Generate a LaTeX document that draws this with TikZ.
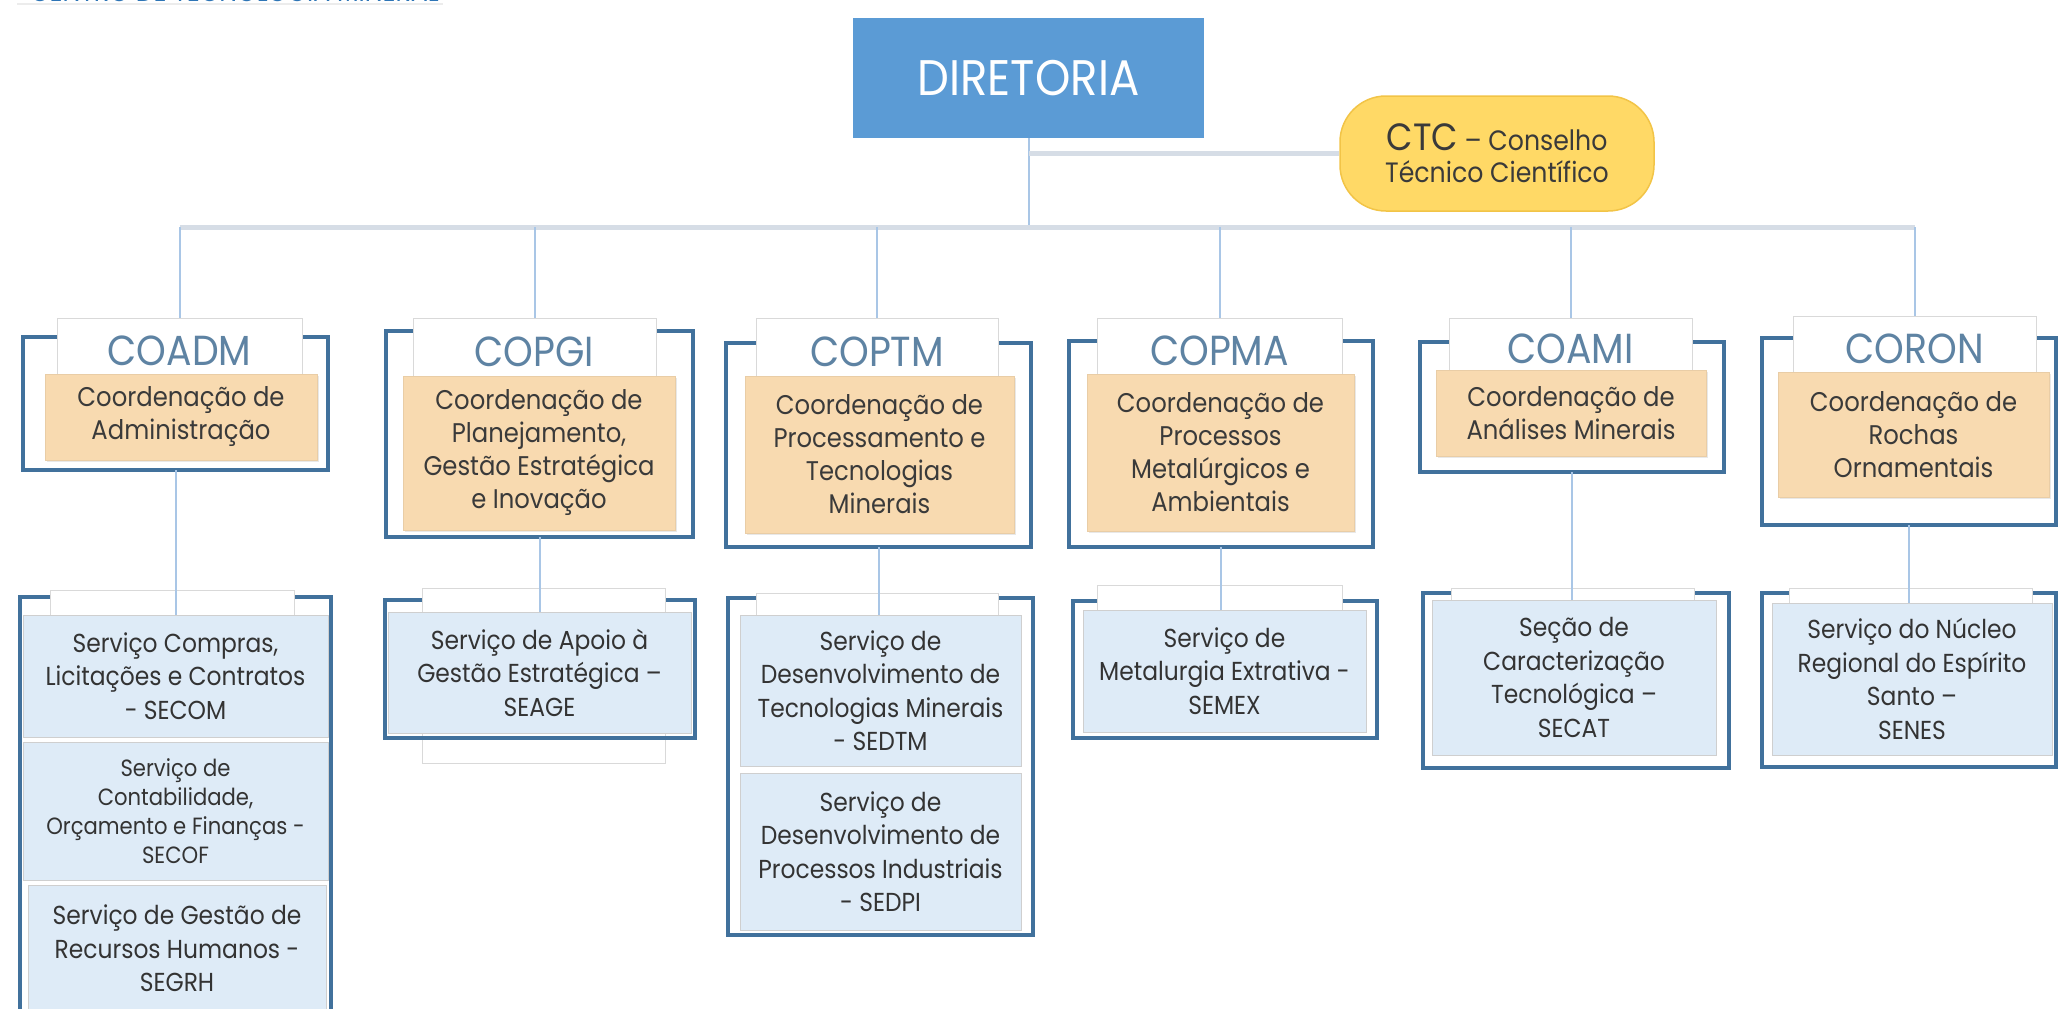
\documentclass[tikz,border=0pt]{standalone}
\usepackage{fontspec}
\setmainfont{Poppins}[FakeStretch=0.9]
\usetikzlibrary{shadows}
\definecolor{dirblue}{HTML}{5B9BD5}
\definecolor{ctcy}{HTML}{FFD966}
\definecolor{ctcb}{HTML}{F2C447}
\definecolor{busc}{HTML}{D6DDE6}
\definecolor{connc}{HTML}{A9C6E6}
\definecolor{framec}{HTML}{41719C}
\definecolor{tabgray}{HTML}{D9D9D9}
\definecolor{codec}{HTML}{5E83A3}
\definecolor{orng}{HTML}{F8DAB0}
\definecolor{orngd}{HTML}{E9CDA6}
\definecolor{svc}{HTML}{DEEBF7}
\definecolor{svcd}{HTML}{CFCFCF}
\definecolor{txt}{HTML}{3A3A3A}
\definecolor{hdrblue}{HTML}{2E75B6}
\newcommand\fdir{\fontsize{50}{56}\selectfont}
\newcommand\fcode{\fontsize{42}{46}\selectfont}
\newcommand\forg{\fontsize{27}{33}\selectfont}
\newcommand\fsvc{\fontsize{26}{33.5}\selectfont}
\newcommand\fsvcs{\fontsize{23.5}{29}\selectfont}
\newcommand\fctc{\fontsize{28}{32}\selectfont}
\newcommand\rbox[7]{\node[#1, minimum width={#5-#3}, minimum height={#6-#4}] (#2) at ({(#3+#5)/2},{(#4+#6)/2}) {#7};}
\newcommand\framepath[2]{\draw[frameline] (#2.west |- #1.north) -- (#1.north west) -- (#1.south west) -- (#1.south east) -- (#1.north east) -- (#2.east |- #1.north);}
\tikzset{
  box/.style={rectangle, inner sep=0pt, align=center, text=txt},
  dirbox/.style={box, fill=dirblue, text=white, font=\fdir},
  ctcbox/.style={box, fill=ctcy, draw=ctcb, line width=1.5pt, rounded corners=46pt, font=\fctc},
  framebox/.style={rectangle, inner sep=0pt},
  emptytab/.style={rectangle, inner sep=0pt, fill=white, draw=tabgray, line width=1pt},
  tabbox/.style={emptytab, text=codec, font=\fcode, text height=38pt, text depth=0pt},
  orgbox/.style={box, fill=orng, draw=orngd, line width=0.8pt, font=\forg,
     drop shadow={opacity=0.18, shadow xshift=2pt, shadow yshift=-2pt}},
  svcbox/.style={box, fill=svc, draw=svcd, line width=1pt, font=\fsvc, text=black!80},
  frameline/.style={draw=framec, line width=4.5pt},
  conn/.style={draw=connc, line width=2pt},
  busline/.style={draw=busc, line width=5pt},
}
\begin{document}
\begin{tikzpicture}[x=1pt, y=-1pt]
\useasboundingbox (0,0) rectangle (2059,1009);
\fill[white] (0,0) rectangle (2059,1009);

% header (clipped at top)
\draw[gray!15, line width=2pt] (17,4) -- (443,4);
\node[anchor=base west, inner sep=0pt, text=hdrblue, font=\fontsize{28}{28}\selectfont] (hdr) at (30,1.5) {CENTRO DE TECNOLOGIA MINERAL};

% top level
\rbox{dirbox}{dir}{853}{18}{1204}{138}{DIRETORIA}
\rbox{ctcbox}{ctc}{1340}{96}{1654}{211}{{\fontsize{38}{32}\selectfont CTC} – Conselho\\Técnico Científico}
\coordinate (busY) at (0,227);

% coordination tabs
\rbox{tabbox}{tA}{57}{318}{302}{374}{COADM}
\rbox{tabbox}{tB}{413}{318}{656}{376}{COPGI}
\rbox{tabbox}{tC}{756}{318}{998}{376}{COPTM}
\rbox{tabbox}{tD}{1097}{318}{1342}{374}{COPMA}
\rbox{tabbox}{tE}{1449}{318}{1692}{370}{COAMI}
\rbox{tabbox}{tF}{1793}{316}{2036}{372}{CORON}

% service tabs
\rbox{emptytab}{uA}{50}{590}{294}{615}{}
\rbox{emptytab}{uB}{422}{588}{665}{763}{}
\rbox{emptytab}{uC}{756}{593}{998}{615}{}
\rbox{emptytab}{uD}{1097}{585}{1342}{610}{}
\rbox{emptytab}{uE}{1451}{588}{1694}{600}{}
\rbox{emptytab}{uF}{1789}{588}{2032}{603}{}

% coordination frames
\rbox{framebox}{fA}{23}{337}{328}{470}{}
\rbox{framebox}{fB}{386}{331}{693}{537}{}
\rbox{framebox}{fC}{726}{343}{1031}{547}{}
\rbox{framebox}{fD}{1069}{341}{1373}{547}{}
\rbox{framebox}{fE}{1420}{342}{1724}{472}{}
\rbox{framebox}{fF}{1762}{338}{2056}{525}{}
\framepath{fA}{tA}
\framepath{fB}{tB}
\framepath{fC}{tC}
\framepath{fD}{tD}
\framepath{fE}{tE}
\framepath{fF}{tF}

% service frames
\rbox{framebox}{gA}{20}{597}{331}{1030}{}
\rbox{framebox}{gB}{385}{600}{695}{738}{}
\rbox{framebox}{gC}{728}{598}{1033}{935}{}
\rbox{framebox}{gD}{1073}{601}{1377}{738}{}
\rbox{framebox}{gE}{1423}{593}{1729}{768}{}
\rbox{framebox}{gF}{1762}{593}{2056}{767}{}
\framepath{gA}{uA}
\framepath{gB}{uB}
\framepath{gC}{uC}
\framepath{gD}{uD}
\framepath{gE}{uE}
\framepath{gF}{uF}

% coordination descriptions
\rbox{orgbox}{oA}{45}{374}{317}{460}{Coordenação de\\Administração}
\rbox{orgbox}{oB}{403}{376}{675}{530}{Coordenação de\\Planejamento,\\Gestão Estratégica\\e Inovação}
\rbox{orgbox}{oC}{745}{376}{1014}{533}{Coordenação de\\Processamento e\\Tecnologias\\Minerais}
\rbox{orgbox}{oD}{1087}{374}{1354}{531}{Coordenação de\\Processos\\Metalúrgicos e\\Ambientais}
\rbox{orgbox}{oE}{1436}{370}{1706}{456}{Coordenação de\\Análises Minerais}
\rbox{orgbox}{oF}{1778}{372}{2049}{497}{Coordenação de\\Rochas\\Ornamentais}

% services
\rbox{svcbox}{s1}{23}{615}{328}{737}{Serviço Compras,\\Licitações e Contratos\\- SECOM}
\rbox{svcbox, font=\fsvcs}{s2}{23}{742}{328}{880}{Serviço de\\Contabilidade,\\Orçamento e Finanças -\\SECOF}
\rbox{svcbox}{s3}{28}{885}{326}{1012}{Serviço de Gestão de\\Recursos Humanos -\\SEGRH}
\rbox{svcbox}{s4}{388}{612}{691}{733}{Serviço de Apoio à\\Gestão Estratégica –\\SEAGE}
\rbox{svcbox}{s5}{740}{615}{1021}{766}{Serviço de\\Desenvolvimento de\\Tecnologias Minerais\\- SEDTM}
\rbox{svcbox}{s6}{740}{773}{1021}{930}{Serviço de\\Desenvolvimento de\\Processos Industriais\\- SEDPI}
\rbox{svcbox}{s7}{1083}{610}{1366}{732}{Serviço de\\Metalurgia Extrativa -\\SEMEX}
\rbox{svcbox}{s8}{1432}{600}{1716}{755}{Seção de\\Caracterização\\Tecnológica –\\SECAT}
\rbox{svcbox}{s9}{1772}{603}{2052}{755}{Serviço do Núcleo\\Regional do Espírito\\Santo –\\SENES}

% connectors
\draw[conn] (dir.south) -- (dir.south |- busY);
\draw[busline] (dir.south |- ctc.west) -- (ctc.west);
\draw[busline] (tA.north |- busY) -- (tF.north |- busY);
\foreach \t in {tA,tB,tC,tD,tE,tF}{
  \draw[conn] (\t.north |- busY) -- (\t.north);
}
\draw[conn] (fA.south) -- (fA.south |- s1.north);
\draw[conn] (fB.south) -- (fB.south |- s4.north);
\draw[conn] (fC.south) -- (fC.south |- s5.north);
\draw[conn] (fD.south) -- (fD.south |- s7.north);
\draw[conn] (fE.south) -- (fE.south |- s8.north);
\draw[conn] (fF.south) -- (fF.south |- s9.north);
\end{tikzpicture}
\end{document}
